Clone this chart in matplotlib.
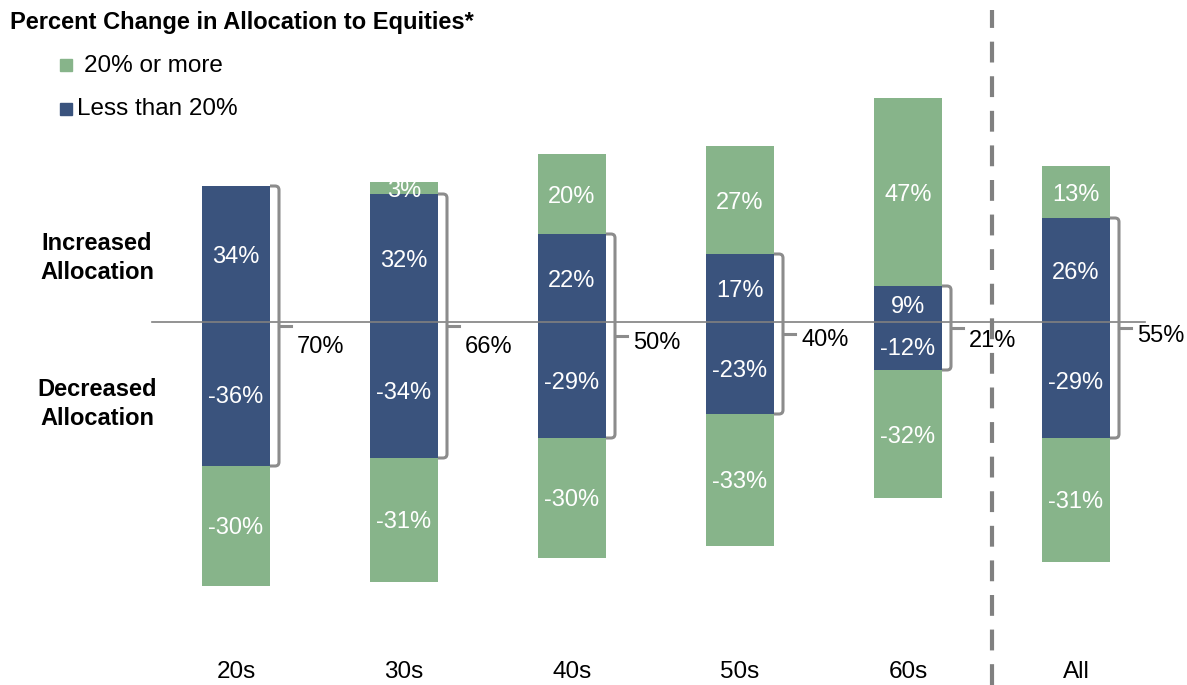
import matplotlib
import matplotlib.pyplot as plt
from matplotlib.path import Path
from matplotlib.patches import PathPatch

matplotlib.use('Agg')
plt.rcParams['font.family'] = ['Liberation Sans', 'DejaVu Sans']

categories = ['20s', '30s', '40s', '50s', '60s', 'All']
green_up = [0, 3, 20, 27, 47, 13]
blue_up = [34, 32, 22, 17, 9, 26]
blue_down = [-36, -34, -29, -23, -12, -29]
green_down = [-30, -31, -30, -33, -32, -31]
totals = ['70%', '66%', '50%', '40%', '21%', '55%']
total_y = [-5.7, -5.7, -4.5, -3.8, -4.0, -2.8]

GREEN = '#87b48a'
BLUE = '#3a537d'
GRAY = '#8c8c8c'

fig = plt.figure(figsize=(11.87, 6.85), dpi=100)
ax = fig.add_axes([0, 0, 1, 1])
ax.set_xlim(-236 / 168, (1187 - 236) / 168)
ax.set_ylim(-(685 - 322) / 4, 322 / 4)
ax.axis('off')

x = list(range(len(categories)))
w = 68 / 168

ax.bar(x, blue_up, width=w, color=BLUE, zorder=2)
ax.bar(x, green_up, width=w, bottom=blue_up, color=GREEN, zorder=2)
ax.bar(x, blue_down, width=w, color=BLUE, zorder=2)
ax.bar(x, green_down, width=w, bottom=blue_down, color=GREEN, zorder=2)

# zero line
ax.plot([(152 - 236) / 168, (1145 - 236) / 168], [0, 0], color='#808080', lw=1.2, zorder=3)

# dividing dashed line
ax.axvline(4.5, ymin=0.0, ymax=1 - 10 / 685, color='#808080', lw=3,
           dashes=(5, 3.3), zorder=1)

# segment labels
lbl = dict(ha='center', va='center_baseline', color='white', fontsize=17, zorder=4)
for i in x:
    if green_up[i]:
        ax.text(i, blue_up[i] + green_up[i] / 2, f'{green_up[i]}%', **lbl)
    ax.text(i, blue_up[i] / 2, f'{blue_up[i]}%', **lbl)
    ax.text(i, blue_down[i] / 2, f'{blue_down[i]}%', **lbl)
    ax.text(i, blue_down[i] + green_down[i] / 2, f'{green_down[i]}%', **lbl)
    ax.text(i, -87, categories[i], ha='center', va='center_baseline', fontsize=17.5)

# brackets around the blue part
edge = w / 2
off = 9 / 168
r = 4 / 168
ry = 1.0
for i in x:
    top, bot = blue_up[i], blue_down[i]
    xe = i + edge
    xb = xe + off
    verts = [(xe, top), (xb - r, top), (xb, top), (xb, top - ry),
             (xb, bot + ry), (xb, bot), (xb - r, bot), (xe, bot)]
    codes = [Path.MOVETO, Path.LINETO, Path.CURVE3, Path.CURVE3,
             Path.LINETO, Path.CURVE3, Path.CURVE3, Path.LINETO]
    ax.add_patch(PathPatch(Path(verts, codes), fill=False, edgecolor=GRAY, lw=2.2, zorder=3))
    mid = (top + bot) / 2
    ax.plot([xb, xb + 12 / 168], [mid, mid], color=GRAY, lw=2.2, zorder=3)
    ax.text(xe + 27 / 168, total_y[i], totals[i], ha='left', va='center_baseline',
            fontsize=17, zorder=4)

# side labels
ax.text((97 - 236) / 168, 16, 'Increased\nAllocation', ha='center', va='center',
        fontsize=17, fontweight='bold', linespacing=1.3)
ax.text((97 - 236) / 168, -20.5, 'Decreased\nAllocation', ha='center', va='center',
        fontsize=17, fontweight='bold', linespacing=1.3)

# title and legend
fig.text(10 / 1187, 1 - 22 / 685, 'Percent Change in Allocation to Equities*', ha='left',
         va='center', fontsize=17, fontweight='bold')
fig.patches.append(plt.Rectangle((60 / 1187, 1 - 71 / 685), 12 / 1187, 12 / 685,
                                 transform=fig.transFigure, color=GREEN))
fig.patches.append(plt.Rectangle((60 / 1187, 1 - 115 / 685), 12 / 1187, 12 / 685,
                                 transform=fig.transFigure, color=BLUE))
fig.text(84 / 1187, 1 - 66 / 685, '20% or more', ha='left', va='center', fontsize=17.5)
fig.text(77 / 1187, 1 - 109 / 685, 'Less than 20%', ha='left', va='center', fontsize=17.5)

plt.savefig('out.png', dpi=100)
plt.close()
